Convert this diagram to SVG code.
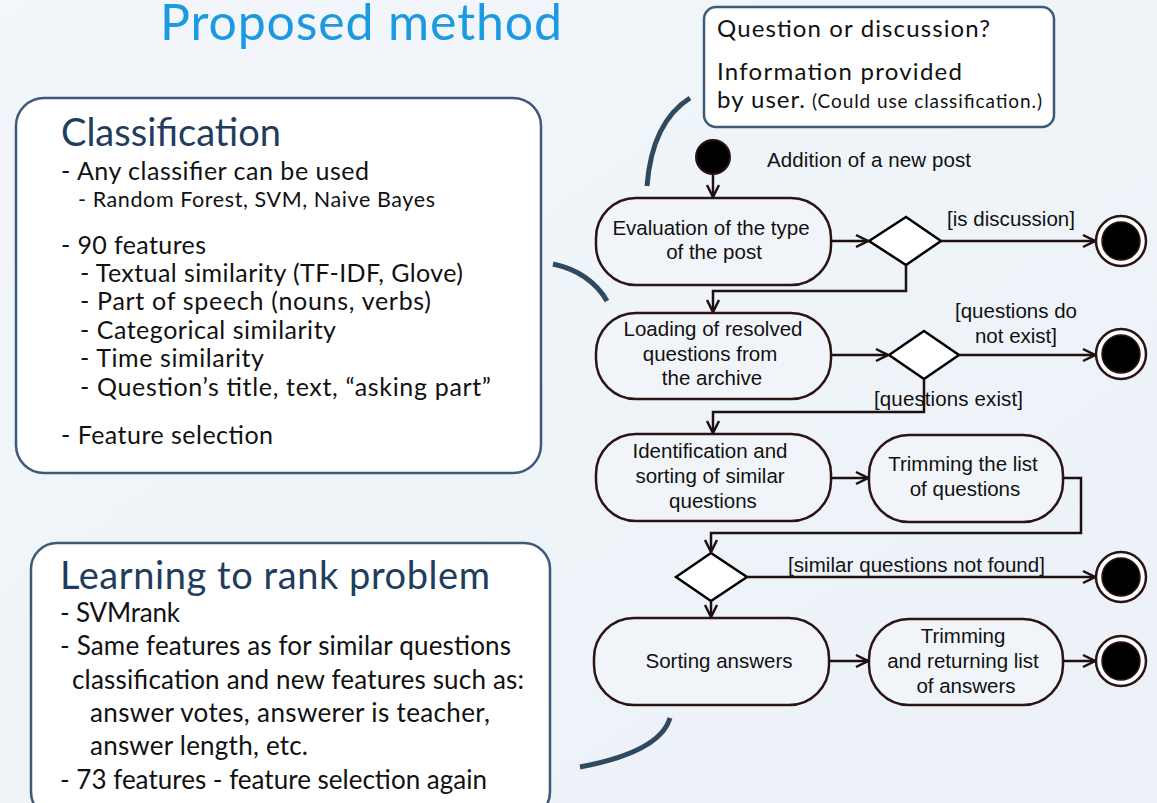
<svg xmlns="http://www.w3.org/2000/svg" width="1157" height="803" viewBox="0 0 1157 803">
<defs>
<linearGradient id="bg" x1="0" y1="0" x2="1" y2="1">
<stop offset="0" stop-color="#f3f7fb"/>
<stop offset="1" stop-color="#ebf1f7"/>
</linearGradient>
<marker id="arr" markerUnits="userSpaceOnUse" markerWidth="16" markerHeight="16" viewBox="0 0 16 16" refX="15" refY="8" orient="auto">
<path d="M3,2 L15,8 L3,14" fill="none" stroke="#1e0f10" stroke-width="2.5"/>
</marker>
</defs>
<style>
.note{fill:#ffffff;stroke:#3e5a7a;stroke-width:2.5}
.h{font-family:Lato,"Open Sans",sans-serif;fill:#1f3d5c}
.b{font-family:Lato,"Open Sans",sans-serif;fill:#111111}
.act{fill:#f1f5f9;stroke:#2b1416;stroke-width:2.5}
.dec{fill:#ffffff;stroke:#000000;stroke-width:2.5}
.ft{font-family:"Liberation Sans",Arial,sans-serif;font-size:20.5px;fill:#111111}
.fl{fill:none;stroke:#1e0f10;stroke-width:2.5}
.cur{fill:none;stroke:#2f4a5f;stroke-width:5}
</style>
<rect width="1157" height="803" fill="url(#bg)"/>
<text x="160" y="40" font-family="Lato,'Open Sans',sans-serif" font-size="50" fill="#1b9ae2" textLength="402">Proposed method</text>

<g id="classification">
<rect class="note" x="16" y="98" width="525" height="375" rx="28"/>
<text class="h" x="61" y="146" font-size="38" textLength="220">Classification</text>
<text class="b" x="61" y="180" font-size="25" textLength="308">- Any classifier can be used</text>
<text class="b" x="78" y="207" font-size="21.5" textLength="357">- Random Forest, SVM, Naive Bayes</text>
<text class="b" x="61" y="254" font-size="25" textLength="145">- 90 features</text>
<text class="b" x="80" y="282" font-size="25" textLength="383">- Textual similarity (TF-IDF, Glove)</text>
<text class="b" x="80" y="310" font-size="25" textLength="351">- Part of speech (nouns, verbs)</text>
<text class="b" x="80" y="339" font-size="25" textLength="256">- Categorical similarity</text>
<text class="b" x="80" y="367" font-size="25" textLength="184">- Time similarity</text>
<text class="b" x="80" y="396" font-size="25" textLength="411">- Question’s title, text, “asking part”</text>
<text class="b" x="61" y="444" font-size="25" textLength="212">- Feature selection</text>
</g>

<g id="learning">
<rect class="note" x="31" y="543" width="519" height="275" rx="26"/>
<text class="h" x="60" y="589" font-size="38" textLength="430">Learning to rank problem</text>
<text class="b" x="60" y="622" font-size="26" textLength="120">- SVMrank</text>
<text class="b" x="60" y="655" font-size="26" textLength="451">- Same features as for similar questions</text>
<text class="b" x="72" y="689" font-size="26" textLength="452">classification and new features such as:</text>
<text class="b" x="90" y="722" font-size="26" textLength="400">answer votes, answerer is teacher,</text>
<text class="b" x="90" y="755" font-size="26" textLength="218">answer length, etc.</text>
<text class="b" x="60" y="789" font-size="26" textLength="427">- 73 features - feature selection again</text>
</g>

<g id="user-info">
<rect class="note" x="704" y="7" width="350" height="120" rx="12"/>
<text class="b" x="717" y="37" font-size="24" textLength="273">Question or discussion?</text>
<text class="b" x="717" y="80" font-size="24" textLength="245">Information provided</text>
<text class="b" x="717" y="108" font-size="24" textLength="88">by user.</text>
<text class="b" x="812" y="108" font-size="19" textLength="230">(Could use classification.)</text>
</g>

<g id="callouts">
<path class="cur" d="M690,98 Q652,122 647,186"/>
<path class="cur" d="M553,264 Q590,272 607,301"/>
<path class="cur" d="M580,767 Q660,752 670,718"/>
</g>

<g id="start">
<circle cx="713" cy="157" r="17" fill="#000" stroke="#2b1416" stroke-width="2"/>
<text class="ft" x="767" y="167" font-size="19.5" textLength="204">Addition of a new post</text>
</g>

<g id="evaluation">
<rect class="act" x="596" y="198" width="235" height="87" rx="40"/>
<text class="ft" x="711" y="235" text-anchor="middle">Evaluation of the type</text>
<text class="ft" x="714" y="259" text-anchor="middle">of the post</text>
</g>

<g id="decision1">
<polygon class="dec" points="869,241 906,217 941,241 906,265"/>
</g>

<g id="end1">
<circle cx="1121" cy="241" r="25" fill="#fff" stroke="#2b1416" stroke-width="2.5"/>
<circle cx="1121" cy="241" r="19" fill="#000" stroke="#2b1416" stroke-width="1.5"/>
</g>

<g id="loading">
<rect class="act" x="596" y="313" width="235" height="86" rx="40"/>
<text class="ft" x="713" y="336" text-anchor="middle">Loading of resolved</text>
<text class="ft" x="710" y="361" text-anchor="middle">questions from</text>
<text class="ft" x="712" y="385" text-anchor="middle">the archive</text>
</g>

<g id="decision2">
<polygon class="dec" points="889,355 924,331 959,355 924,379"/>
</g>

<g id="end2">
<circle cx="1121" cy="354" r="25" fill="#fff" stroke="#2b1416" stroke-width="2.5"/>
<circle cx="1121" cy="354" r="19" fill="#000" stroke="#2b1416" stroke-width="1.5"/>
</g>

<g id="identification">
<rect class="act" x="596" y="434" width="235" height="87" rx="40"/>
<text class="ft" x="710" y="458" text-anchor="middle">Identification and</text>
<text class="ft" x="710" y="483" text-anchor="middle">sorting of similar</text>
<text class="ft" x="713" y="508" text-anchor="middle">questions</text>
</g>

<g id="trim-questions">
<rect class="act" x="869" y="435" width="194" height="87" rx="40"/>
<text class="ft" x="963" y="471" text-anchor="middle">Trimming the list</text>
<text class="ft" x="965" y="496" text-anchor="middle">of questions</text>
</g>

<g id="decision3">
<polygon class="dec" points="676,577 711,553 747,577 711,601"/>
</g>

<g id="end3">
<circle cx="1121" cy="577" r="25" fill="#fff" stroke="#2b1416" stroke-width="2.5"/>
<circle cx="1121" cy="577" r="19" fill="#000" stroke="#2b1416" stroke-width="1.5"/>
</g>

<g id="sorting">
<rect class="act" x="594" y="618" width="235" height="87" rx="40"/>
<text class="ft" x="719" y="668" text-anchor="middle">Sorting answers</text>
</g>

<g id="trim-answers">
<rect class="act" x="869" y="619" width="194" height="86" rx="40"/>
<text class="ft" x="963" y="643" text-anchor="middle">Trimming</text>
<text class="ft" x="963" y="668" text-anchor="middle">and returning list</text>
<text class="ft" x="966" y="693" text-anchor="middle">of answers</text>
</g>

<g id="end4">
<circle cx="1121" cy="661" r="25" fill="#fff" stroke="#2b1416" stroke-width="2.5"/>
<circle cx="1121" cy="661" r="19" fill="#000" stroke="#2b1416" stroke-width="1.5"/>
</g>

<g id="connectors">
<path class="fl" d="M713,174 L713,197" marker-end="url(#arr)"/>
<path class="fl" d="M831,241 L868,241" marker-end="url(#arr)"/>
<path class="fl" d="M941,241 L1095,241" marker-end="url(#arr)"/>
<text class="ft" x="947" y="226" font-size="19" textLength="128">[is discussion]</text>
<path class="fl" d="M906,265 L906,291 L713,291 L713,312" marker-end="url(#arr)"/>
<path class="fl" d="M831,355 L888,355" marker-end="url(#arr)"/>
<path class="fl" d="M959,355 L1095,355" marker-end="url(#arr)"/>
<text class="ft" x="1016" y="318" font-size="19.5" text-anchor="middle">[questions do</text>
<text class="ft" x="1016" y="343" font-size="19.5" text-anchor="middle">not exist]</text>
<path class="fl" d="M924,379 L924,412 L713,412 L713,433" marker-end="url(#arr)"/>
<text class="ft" x="874" y="406" font-size="19.5" textLength="149">[questions exist]</text>
<path class="fl" d="M831,478 L868,478" marker-end="url(#arr)"/>
<path class="fl" d="M1063,478 L1081,478 L1081,533 L711,533 L711,552" marker-end="url(#arr)"/>
<path class="fl" d="M747,577 L1095,577" marker-end="url(#arr)"/>
<text class="ft" x="788" y="572" font-size="19.5" textLength="257">[similar questions not found]</text>
<path class="fl" d="M711,601 L711,617" marker-end="url(#arr)"/>
<path class="fl" d="M829,661 L868,661" stroke-width="3.5" marker-end="url(#arr)"/>
<path class="fl" d="M1063,661 L1095,661" stroke-width="3.5" marker-end="url(#arr)"/>
</g>
</svg>
